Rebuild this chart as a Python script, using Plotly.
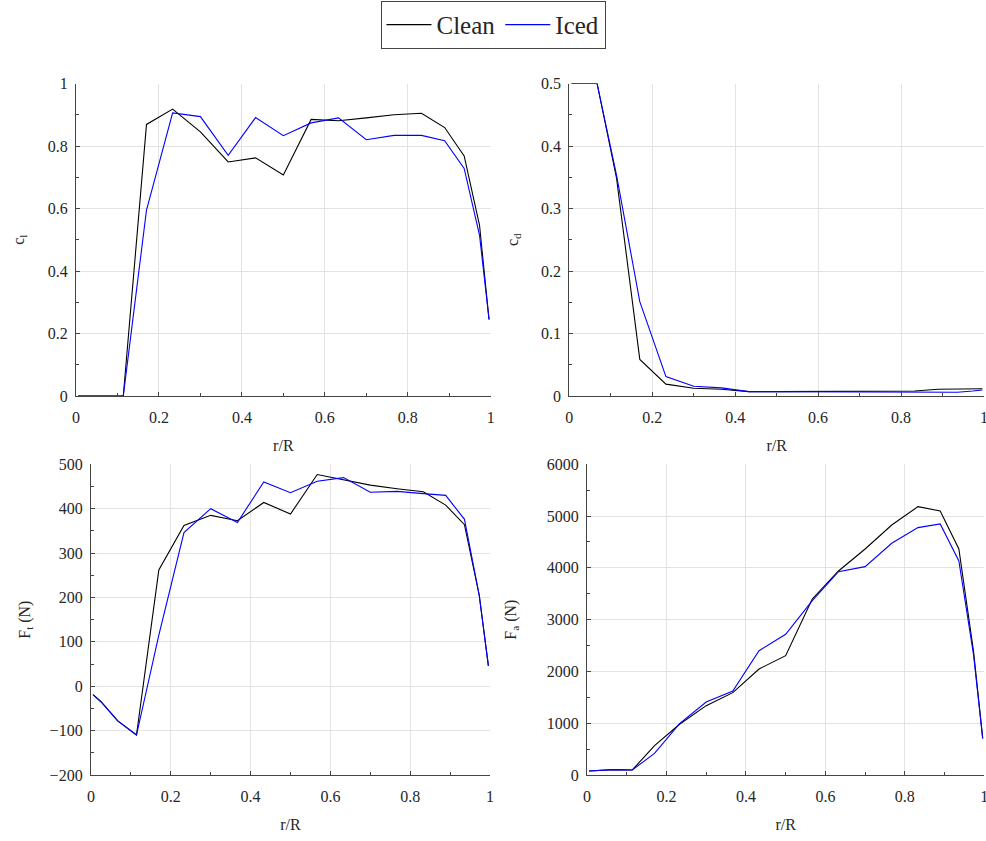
import plotly.graph_objects as go
from plotly.subplots import make_subplots

# Radial stations along the blade
r_R = [0.005, 0.025, 0.067, 0.114, 0.17, 0.233, 0.3, 0.367, 0.433, 0.5,
       0.567, 0.633, 0.7, 0.767, 0.833, 0.889, 0.936, 0.973, 0.996]

# Lift coefficient
cl_clean = [0, 0, 0, 0, 0.869, 0.918, 0.845, 0.749, 0.762, 0.707,
            0.885, 0.881, 0.89, 0.9, 0.905, 0.859, 0.768, 0.547, 0.245]
cl_iced = [0, 0, 0, 0, 0.595, 0.906, 0.894, 0.77, 0.891, 0.833,
           0.874, 0.89, 0.82, 0.834, 0.834, 0.817, 0.728, 0.515, 0.245]

# Drag coefficient
cd_clean = [0.5, 0.5, 0.5, 0.348, 0.0586, 0.019, 0.0123, 0.0107, 0.007, 0.007,
            0.007, 0.007, 0.0075, 0.0078, 0.008, 0.0107, 0.011, 0.0115, 0.0117]
cd_iced = [0.5, 0.5, 0.5, 0.353, 0.151, 0.031, 0.0155, 0.013, 0.007, 0.007,
           0.007, 0.007, 0.0065, 0.006, 0.006, 0.006, 0.006, 0.008, 0.0096]

# Tangential force (N)
ft_clean = [-19, -35, -78, -110, 262, 362, 385, 373, 414, 388,
            477, 465, 453, 445, 438, 408, 364, 205, 46]
ft_iced = [-19, -35, -78, -110, 115, 346, 400, 369, 460, 436,
           462, 470, 437, 439, 434, 430, 376, 205, 46]

# Axial force (N)
fa_clean = [77, 90, 103, 97, 567, 979, 1339, 1590, 2047, 2305,
            3399, 3940, 4365, 4828, 5182, 5099, 4365, 2382, 708]
fa_iced = [77, 90, 103, 97, 418, 991, 1410, 1622, 2401, 2717,
           3367, 3927, 4024, 4474, 4777, 4848, 4133, 2318, 708]

FONT = "Times New Roman"
TXT = "#262626"
AX = "#444444"
GRID = "#e3e3e3"
W, H = 986, 841

fig = make_subplots(rows=2, cols=2)

panels = [
    (1, 1, cl_clean, cl_iced, "c<sub>l</sub>", [0, 1], 0.2, 19),
    (1, 2, cd_clean, cd_iced, "c<sub>d</sub>", [0, 0.5], 0.1, 18),
    (2, 1, ft_clean, ft_iced, "F<sub>t</sub> (N)", [-200, 500], 100, 15),
    (2, 2, fa_clean, fa_iced, "F<sub>a</sub> (N)", [0, 6000], 1000, 26),
]

for i, (row, col, yc, yi, ytitle, yr, dt, so) in enumerate(panels):
    first = i == 0
    fig.add_trace(go.Scatter(x=r_R, y=yc, mode="lines", name="Clean",
                             line=dict(color="black", width=1.1),
                             showlegend=first), row=row, col=col)
    fig.add_trace(go.Scatter(x=r_R, y=yi, mode="lines", name="Iced",
                             line=dict(color="#0000ff", width=1.1),
                             showlegend=first), row=row, col=col)
    fig.update_yaxes(range=yr, dtick=dt, title=dict(text=ytitle, standoff=so),
                     minor=dict(ticks="inside", ticklen=2.5, tickcolor=AX, dtick=dt / 2),
                     row=row, col=col)

# Panel placement in pixels: (x0, x1, ytop, ybottom)
boxes = {
    (1, 1): (76, 490.7, 83.5, 396),
    (1, 2): (569.3, 984, 83.5, 396),
    (2, 1): (91, 490, 464.3, 775),
    (2, 2): (587, 984.3, 464.3, 775),
}
for (row, col), (x0, x1, yt, yb) in boxes.items():
    fig.update_xaxes(domain=[x0 / W, x1 / W], row=row, col=col)
    fig.update_yaxes(domain=[1 - yb / H, 1 - yt / H], row=row, col=col)

axis_style = dict(
    showline=True, linecolor=AX, linewidth=1.3,
    showgrid=True, gridcolor=GRID, gridwidth=1,
    ticks="inside", ticklen=4, tickcolor=AX, tickwidth=1,
    zeroline=False, mirror=False, automargin=False,
    ticklabeloverflow="allow",
    tickfont=dict(family=FONT, size=16, color=TXT),
    title_font=dict(family=FONT, size=16, color=TXT),
)
fig.update_xaxes(range=[0, 1], dtick=0.2, title=dict(text="r/R", standoff=14),
                 ticklabelstandoff=7,
                 minor=dict(ticks="inside", ticklen=2.5, tickcolor=AX, dtick=0.1),
                 **axis_style)
fig.update_yaxes(ticklabelstandoff=4, **axis_style)

fig.update_layout(
    width=W, height=H,
    margin=dict(l=0, r=0, t=0, b=0, autoexpand=False),
    plot_bgcolor="white", paper_bgcolor="white",
    font=dict(family=FONT, size=16, color=TXT),
    legend=dict(orientation="h", x=0.5, xanchor="center", y=0.999, yanchor="top",
                bordercolor=AX, borderwidth=1, bgcolor="white",
                font=dict(family=FONT, size=25, color=TXT),
                itemwidth=45, tracegroupgap=0),
)

fig.write_html("out.html")
